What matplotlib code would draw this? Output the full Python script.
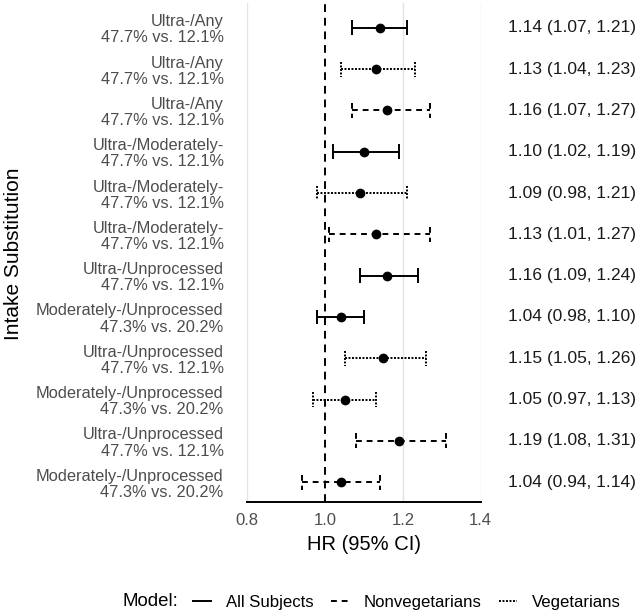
import matplotlib
matplotlib.use("Agg")
import matplotlib.pyplot as plt
from matplotlib.lines import Line2D
from matplotlib.transforms import blended_transform_factory

plt.rcParams['font.family'] = ['Liberation Sans', 'DejaVu Sans']

# данi
substitution = ["Ultra-/Any"] * 3 + ["Ultra-/Moderately-"] * 3 + \
    ["Ultra-/Unprocessed", "Moderately-/Unprocessed"] * 3
intake_pct = ["47.7% vs. 12.1%"] * 7 + ["47.3% vs. 20.2%", "47.7% vs. 12.1%", "47.3% vs. 20.2%",
                                        "47.7% vs. 12.1%", "47.3% vs. 20.2%"]
models = ["All Subjects", "Vegetarians", "Nonvegetarians",
          "All Subjects", "Vegetarians", "Nonvegetarians",
          "All Subjects", "All Subjects", "Vegetarians", "Vegetarians",
          "Nonvegetarians", "Nonvegetarians"]
hr = [1.14, 1.13, 1.16, 1.10, 1.09, 1.13, 1.16, 1.04, 1.15, 1.05, 1.19, 1.04]
ci_low = [1.07, 1.04, 1.07, 1.02, 0.98, 1.01, 1.09, 0.98, 1.05, 0.97, 1.08, 0.94]
ci_high = [1.21, 1.23, 1.27, 1.19, 1.21, 1.27, 1.24, 1.10, 1.26, 1.13, 1.31, 1.14]
x_ticks = [0.8, 1.0, 1.2, 1.4]

model_styles = {
    "All Subjects": "-",
    "Nonvegetarians": (0, (3, 2.5)),
    "Vegetarians": (0, (1, 0.8)),
}

fig = plt.figure(figsize=(6.42, 6.15), dpi=100)
ax = fig.add_axes([247.3 / 642, 1 - 502 / 615, 233.4 / 642, 499 / 615])

rows = list(range(1, len(hr) + 1))

# сітка
for t in x_ticks:
    if t != 1.0:
        ax.axvline(t, color='#e3e3e3', linewidth=1.0, zorder=0)
ax.axvline(1.0, color='black', linewidth=1.4, linestyle=(0, (4, 3)), zorder=1)

cap = 0.18
for y, m, h, lo, hi in zip(rows, models, hr, ci_low, ci_high):
    ls = model_styles[m]
    ax.hlines(y, lo, hi, colors='black', linewidth=1.4, linestyles=[ls], zorder=2)
    ax.vlines([lo, hi], y - cap, y + cap, colors='black', linewidth=1.4,
              linestyles=[ls], zorder=2)
    ax.plot(h, y, 'o', color='black', markersize=6, zorder=3)

ax.set_xlim(0.8, 1.4)
ax.set_ylim(12.48, 0.4)
ax.set_xticks(x_ticks)
ax.set_xticklabels(["%.1f" % t for t in x_ticks])
ax.set_yticks(rows)
ax.set_yticklabels([s + "\n" + p for s, p in zip(substitution, intake_pct)],
                   linespacing=1.1)
ax.tick_params(axis='y', length=0, pad=17, labelsize=11.8, labelcolor='#4d4d4d')
ax.tick_params(axis='x', length=0, pad=8, labelsize=12, labelcolor='#4d4d4d')
for s in ['top', 'right', 'left']:
    ax.spines[s].set_visible(False)
ax.spines['bottom'].set_linewidth(1.4)
ax.set_xlabel("HR (95% CI)", fontsize=14.5, labelpad=5)
fig.text(14 / 642, 1 - 254 / 615, "Intake Substitution", rotation=90,
         fontsize=15, ha='center', va='center')

# значення HR праворуч
tr = blended_transform_factory(fig.transFigure, ax.transData)
for y, h, lo, hi in zip(rows, hr, ci_low, ci_high):
    ax.text(508 / 642, y, "%.2f (%.2f, %.2f)" % (h, lo, hi), transform=tr,
            ha='left', va='center', fontsize=12.5, color='#1a1a1a')

# легенда
fig.text(122 / 642, 1 - 602 / 615, "Model:", fontsize=13.4, ha='left', va='center')
handles = [Line2D([0], [0], color='black', linewidth=1.4, linestyle=model_styles[k])
           for k in ["All Subjects", "Nonvegetarians", "Vegetarians"]]
fig.legend(handles, ["All Subjects", "Nonvegetarians", "Vegetarians"],
           loc='center left', bbox_to_anchor=(193 / 642, 1 - 602 / 615), ncol=3,
           frameon=False, fontsize=12.1, handlelength=1.05, handletextpad=0.9,
           columnspacing=1.05, borderaxespad=0, borderpad=0)

fig.savefig("out.png", dpi=100)
